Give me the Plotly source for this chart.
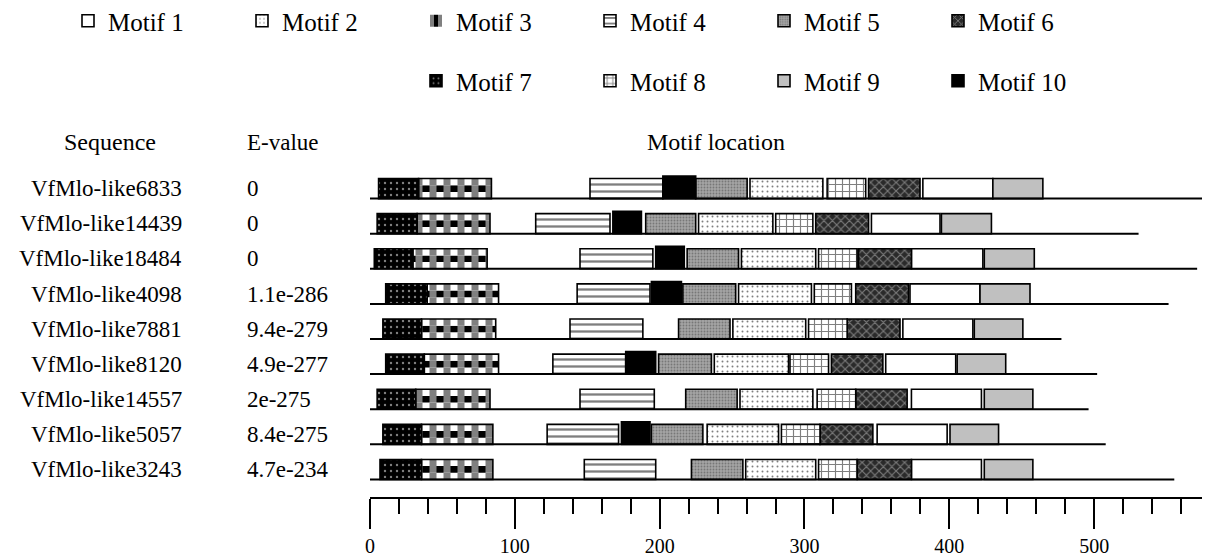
import plotly.graph_objects as go

# ---------------- data ----------------
sequences = ["VfMlo-like6833", "VfMlo-like14439", "VfMlo-like18484", "VfMlo-like4098",
             "VfMlo-like7881", "VfMlo-like8120", "VfMlo-like14557", "VfMlo-like5057",
             "VfMlo-like3243"]
evalues = ["0", "0", "0", "1.1e-286", "9.4e-279", "4.9e-277", "2e-275", "8.4e-275", "4.7e-234"]
seq_lengths = [587, 538, 579, 559, 484, 509, 503, 515, 563]

motif_names = ["Motif 1", "Motif 2", "Motif 3", "Motif 4", "Motif 5",
               "Motif 6", "Motif 7", "Motif 8", "Motif 9", "Motif 10"]

m1_start = [387, 351, 379, 378, 373, 361, 379, 355, 379]
m1_end = [436, 399, 429, 427, 422, 410, 428, 404, 428]
m2_start = [266, 230, 260, 258, 254, 241, 259, 236, 263]
m2_end = [317, 282, 312, 309, 305, 293, 310, 286, 312]
m3_start = [34, 33, 30, 40, 36, 38, 32, 36, 36]
m3_end = [85, 84, 82, 90, 88, 90, 84, 86, 86]
m4_start = [154, 116, 147, 145, 140, 128, 147, 124, 150]
m4_end = [205, 168, 198, 196, 191, 179, 199, 174, 200]
m5_start = [228, 193, 222, 219, 216, 202, 221, 197, 225]
m5_end = [264, 228, 258, 256, 252, 239, 257, 233, 261]
m6_start = [349, 312, 342, 340, 334, 323, 340, 315, 341]
m6_end = [385, 349, 379, 377, 371, 359, 376, 352, 379]
m7_start = [6, 5, 3, 11, 9, 11, 5, 9, 7]
m7_end = [34, 33, 30, 40, 36, 38, 32, 36, 36]
m8_start = [320, 284, 314, 311, 307, 294, 313, 288, 314]
m8_end = [347, 310, 341, 337, 334, 321, 340, 315, 341]
m9_start = [436, 400, 430, 427, 423, 411, 430, 406, 430]
m9_end = [471, 435, 465, 462, 457, 445, 464, 440, 464]
m10_start = [205, 170, 200, 197, None, 179, None, 176, None]
m10_end = [228, 190, 220, 218, None, 200, None, 196, None]

motif_starts = [m1_start, m2_start, m3_start, m4_start, m5_start,
                m6_start, m7_start, m8_start, m9_start, m10_start]
motif_ends = [m1_end, m2_end, m3_end, m4_end, m5_end,
              m6_end, m7_end, m8_end, m9_end, m10_end]

# ---------------- styles ----------------
FONT = "Liberation Serif"
n = len(sequences)
rowpos = [n - i for i in range(n)]          # top row highest

patterns = [
    dict(shape="", bgcolor="white", fgcolor="black"),
    dict(shape=".", bgcolor="white", fgcolor="black", size=5, solidity=0.12),
    None,  # checkerboard, built from stripe bands below
    dict(shape="-", bgcolor="white", fgcolor="black", size=7, solidity=0.33),
    dict(shape=".", bgcolor="#a4a4a4", fgcolor="#4a4a4a", size=3, solidity=0.3),
    dict(shape="x", bgcolor="#2a2a2a", fgcolor="#c8c8c8", size=6, solidity=0.35),
    dict(shape=".", bgcolor="black", fgcolor="white", size=6, solidity=0.12),
    dict(shape="+", bgcolor="white", fgcolor="black", size=7, solidity=0.3),
    dict(shape="", bgcolor="#c0c0c0", fgcolor="black"),
    dict(shape="", bgcolor="black", fgcolor="black"),
]
stripe_a = dict(shape="|", bgcolor="white", fgcolor="black", size=14, solidity=0.5)
stripe_b = dict(shape="|", bgcolor="black", fgcolor="white", size=14, solidity=0.5)
H = 0.57
bar_h = [H] * 9 + [0.64]
EDGE = dict(color="black", width=1.6)

fig = go.Figure()

# sequence lines
lx, ly = [], []
for p, L in zip(rowpos, seq_lengths):
    lx += [0, L, None]
    ly += [p, p, None]
fig.add_trace(go.Scatter(x=lx, y=ly, mode="lines", line=dict(color="black", width=2),
                         showlegend=False, hoverinfo="skip"))

# motif boxes
for k, name in enumerate(motif_names):
    xs, bs, ys = [], [], []
    for p, s, e in zip(rowpos, motif_starts[k], motif_ends[k]):
        if s is None:
            continue
        xs.append(e - s)
        bs.append(s)
        ys.append(p)
    leg = "legend" if k < 6 else "legend2"
    if patterns[k] is None:
        # checkerboard: three bands of alternating stripes + outline
        third = H / 3
        for j, pat in enumerate([stripe_a, stripe_b, stripe_a]):
            fig.add_trace(go.Bar(
                x=xs, base=bs, y=ys, orientation="h", name=name,
                width=third, offset=j * third, legendgroup=name,
                showlegend=(j == 1),
                marker=dict(color=pat["bgcolor"], line=dict(width=0), pattern=pat),
                legend=leg,
            ))
        fig.add_trace(go.Bar(
            x=xs, base=bs, y=ys, orientation="h", name=name,
            width=H, offset=0, legendgroup=name, showlegend=False,
            marker=dict(color="rgba(0,0,0,0)", line=EDGE), legend=leg,
        ))
        continue
    pat = patterns[k]
    fig.add_trace(go.Bar(
        x=xs, base=bs, y=ys, orientation="h", name=name,
        width=bar_h[k], offset=0,
        marker=dict(color=pat["bgcolor"], line=EDGE, pattern=pat),
        legend=leg,
    ))

# empty trace that attaches the ruler axis (x2) to the plot
fig.add_trace(go.Scatter(x=[None], y=[None], xaxis="x2", yaxis="y",
                         showlegend=False, hoverinfo="skip"))

# text columns
ann = []
for p, s, ev in zip(rowpos, sequences, evalues):
    ann.append(dict(x=(184 - 370) / 840, y=p + 0.28, xref="paper", yref="y", text=s,
                    showarrow=False, xanchor="right", yanchor="middle",
                    font=dict(size=23)))
    ann.append(dict(x=(245 - 370) / 840, y=p + 0.28, xref="paper", yref="y", text=ev,
                    showarrow=False, xanchor="left", yanchor="middle",
                    font=dict(size=23)))
hy = (497 - 142) / 323
ann.append(dict(x=(110 - 370) / 840, y=hy, xref="paper", yref="paper", text="Sequence",
                showarrow=False, xanchor="center", yanchor="middle", font=dict(size=24)))
ann.append(dict(x=(245 - 370) / 840, y=hy, xref="paper", yref="paper", text="E-value",
                showarrow=False, xanchor="left", yanchor="middle", font=dict(size=23)))
ann.append(dict(x=(716 - 370) / 840, y=hy, xref="paper", yref="paper", text="Motif location",
                showarrow=False, xanchor="center", yanchor="middle", font=dict(size=24)))

# the page puts the figure 8 px from the top-left corner, so the figure is 8 px smaller
fig.update_layout(
    width=1202, height=548, autosize=False,
    margin=dict(l=362, r=0, t=166, b=59, pad=0, autoexpand=False),
    paper_bgcolor="white", plot_bgcolor="white",
    font=dict(family=FONT, color="black", size=20),
    barmode="overlay",
    xaxis=dict(range=[0, 588], visible=False),
    xaxis2=dict(range=[0, 580], domain=[0, 580 / 588], anchor="y", overlaying="x",
                side="bottom", showline=True, linecolor="black", linewidth=2,
                ticks="outside", ticklen=30, tickwidth=2, tickcolor="black",
                tick0=0, dtick=100, showgrid=False, zeroline=False,
                tickfont=dict(family=FONT, size=20),
                minor=dict(ticks="outside", dtick=20, tick0=0, ticklen=15,
                           tickwidth=2, tickcolor="black", showgrid=False)),
    yaxis=dict(range=[0.5, 9.7], visible=False),
    annotations=ann,
    legend=dict(orientation="h", x=(68 - 370) / 840, y=(497 + 2) / 323,
                xanchor="left", yanchor="top", entrywidth=129, entrywidthmode="pixels",
                font=dict(size=25), bgcolor="rgba(0,0,0,0)", traceorder="normal"),
    legend2=dict(orientation="h", x=(416 - 370) / 840, y=(497 - 58) / 323,
                 xanchor="left", yanchor="top", entrywidth=129, entrywidthmode="pixels",
                 font=dict(size=25), bgcolor="rgba(0,0,0,0)", traceorder="normal"),
    showlegend=True,
)

fig.write_html("out.html")
